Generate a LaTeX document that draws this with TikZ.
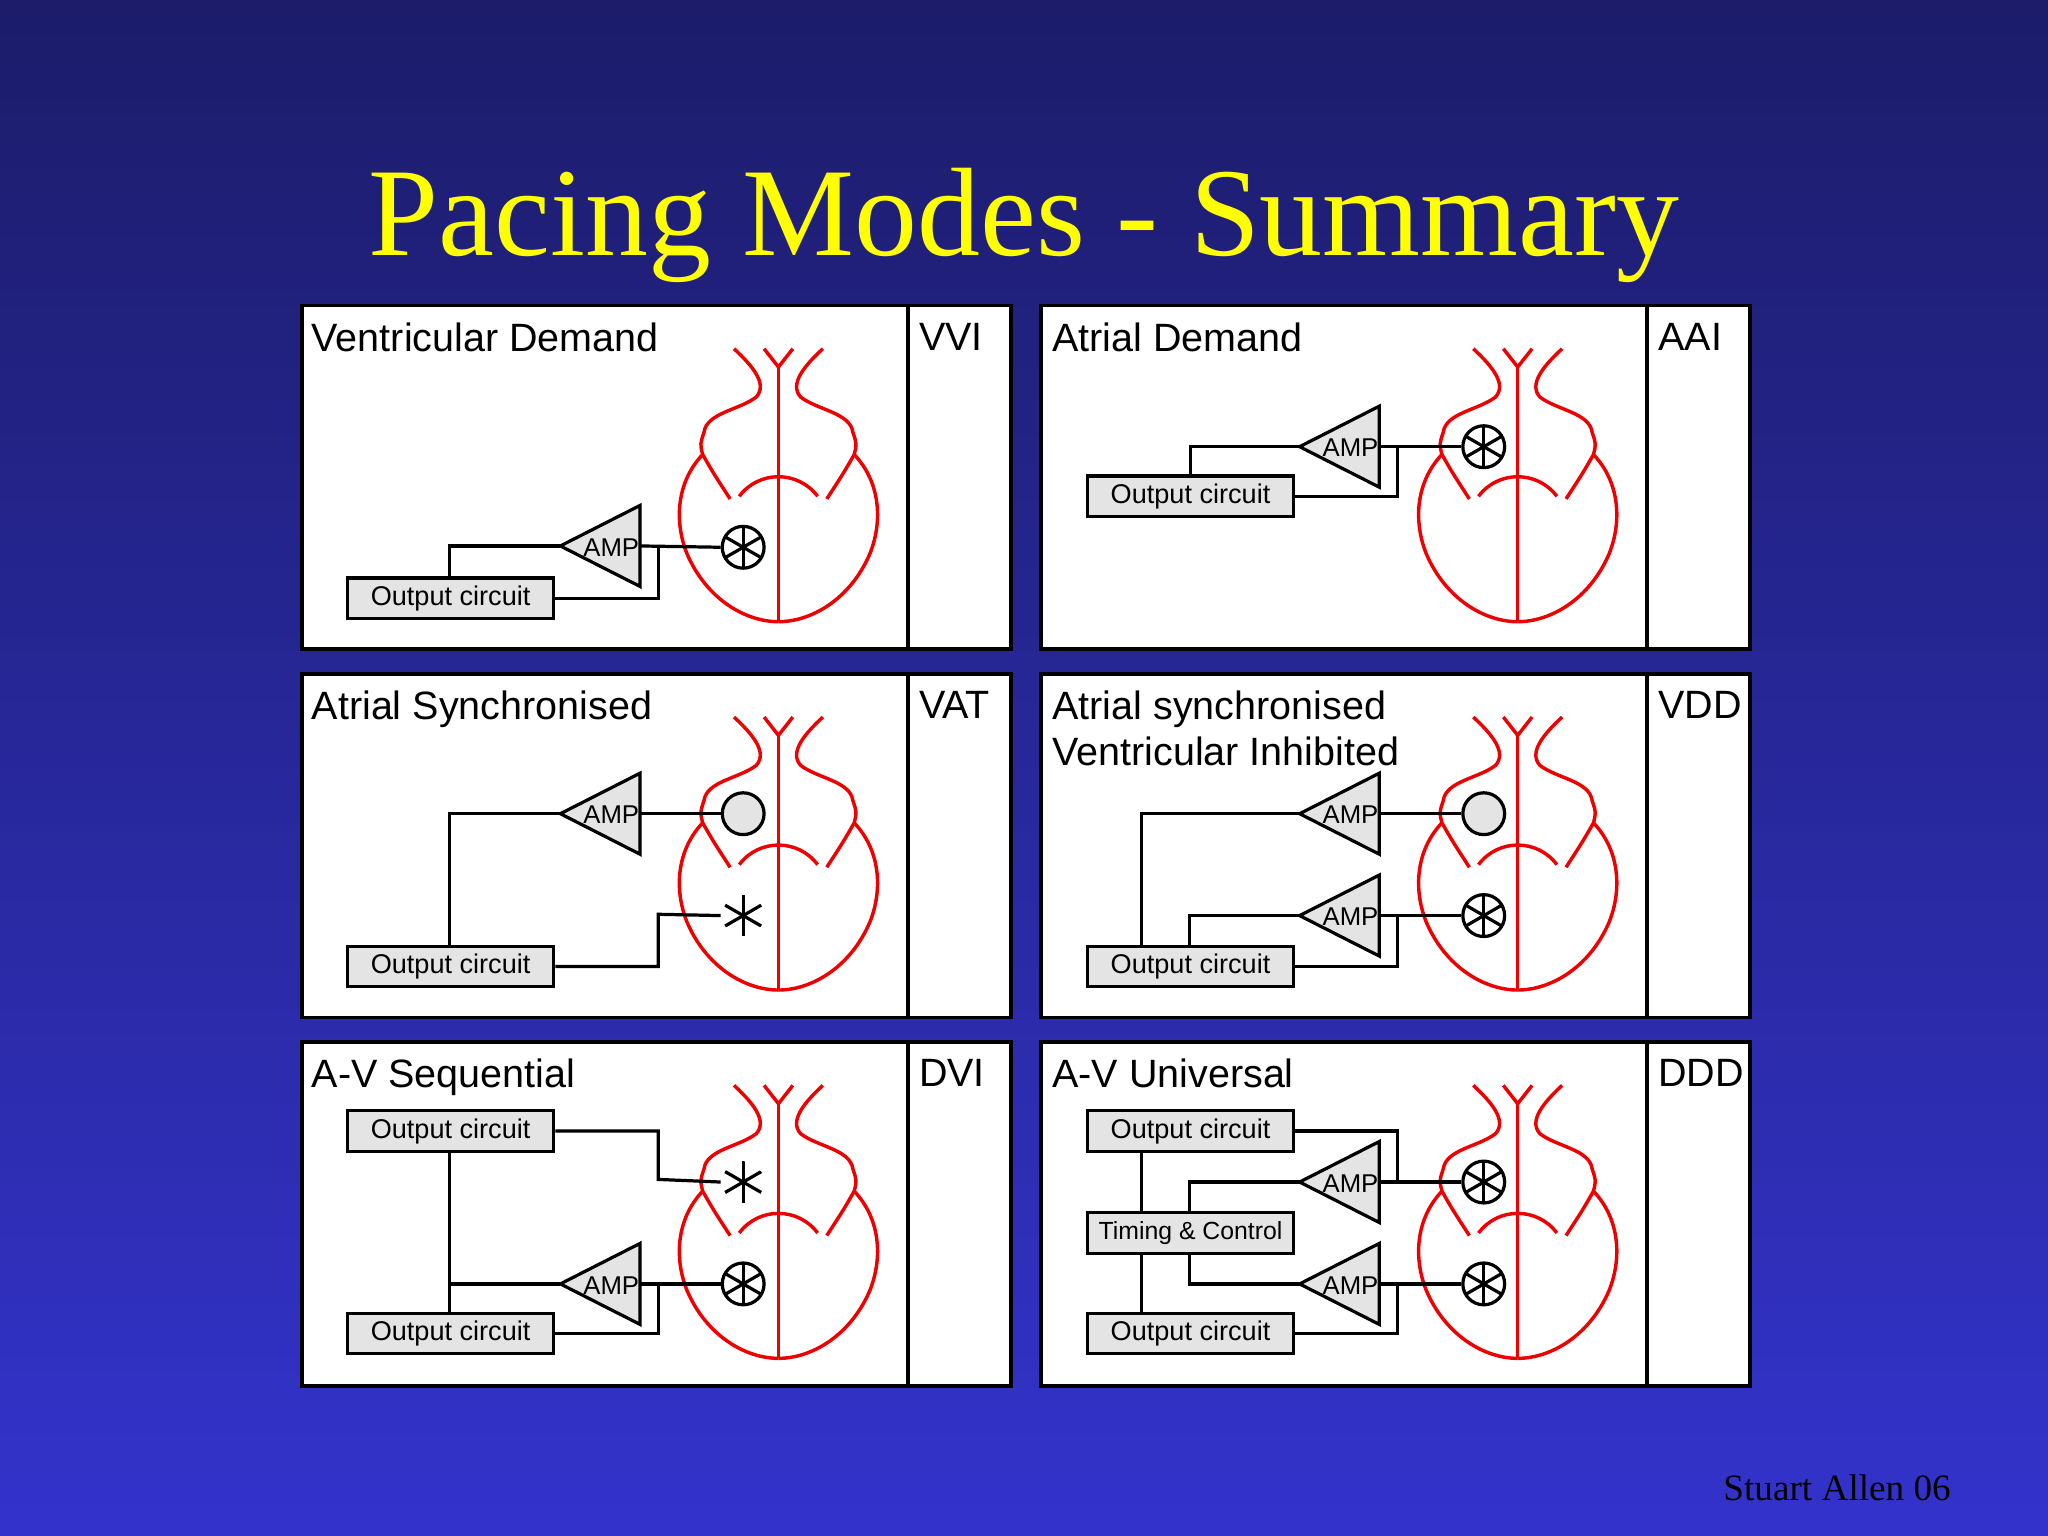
\documentclass[tikz,border=0pt]{standalone}
\usepackage{fontspec}
\setmainfont{Liberation Serif}
\newfontfamily\sansf{Liberation Sans}
\usetikzlibrary{calc}
\definecolor{bgtop}{HTML}{1C1C6A}
\definecolor{bgbot}{HTML}{3333CC}
\definecolor{heartred}{HTML}{EE0000}
\definecolor{boxgray}{HTML}{E4E4E4}
\definecolor{titleyel}{HTML}{FFFF00}
\begin{document}
\begin{tikzpicture}[x=0.01cm,y=-0.01cm,
  panel/.style={draw=black,fill=white,line width=0.8pt},
  ptitle/.style={anchor=base west,inner sep=0pt,font=\sansf\fontsize{8.6}{10}\selectfont,align=left},
  outbox/.style={draw=black,fill=boxgray,line width=0.7pt,minimum width=1.58cm,minimum height=0.31cm,inner sep=0pt,font=\sansf\fontsize{5.9}{6}\selectfont},
  wire/.style={draw=black,line width=0.7pt},
  sensor/.style={circle,draw=black,line width=0.7pt,minimum size=0.32cm,inner sep=0pt},
  spokes/.style={path picture={
     \foreach \ang in {90,30,150}
       \draw[line width=0.7pt] ($(path picture bounding box.center)+(\ang:0.16cm)$) -- ($(path picture bounding box.center)+(\ang+180:0.16cm)$);}},
  sensepace/.style={sensor,fill=white,spokes},
  sense/.style={sensor,fill=boxgray},
  pace/.style={sensor,draw=none,spokes},
  heart/.pic={
    \begin{scope}[draw=heartred,line width=0.75pt]
    \foreach \s in {1,-1}{
      \draw (\s*-34,33) .. controls (\s*-20,46) and (\s*-8,60) .. (\s*-17,70)
        .. controls (\s*-30,80) and (\s*-55,82) .. (\s*-57,97)
        .. controls (\s*-60,106) .. (\s*-58,114)
        .. controls (\s*-50,128) .. (\s*-37,148);
      \draw (\s*-58,114) .. controls (\s*-78,135) and (\s*-80,165) .. (\s*-70,190)
        .. controls (\s*-55,225) and (\s*-25,242) .. (0,242);
    }
    \draw (-30,146) .. controls (-15,126) and (15,126) .. (30,146);
    \draw (-11,33) -- (0,47) -- (11,33);
    \draw (0,47) -- (0,242);
    \end{scope}}
]
\newcommand{\ampl}[3]{% name, apex x, y
  \draw[fill=boxgray,line width=0.7pt] (#2,#3) -- (#2+61,#3-31) -- (#2+61,#3+31) -- cycle;
  \coordinate (#1-w) at (#2,#3);
  \coordinate (#1-e) at (#2+61,#3);
  \node[inner sep=0pt,anchor=east,font=\sansf\fontsize{5.6}{6}\selectfont] (#1) at (#2+61,#3+1) {AMP};}

% background
\shade[top color=bgtop,bottom color=bgbot] (0,0) rectangle (1568,1176);
\node[text=titleyel,font=\fontsize{27.4}{30}\selectfont,anchor=base] (title) at (784,196) {Pacing Modes - Summary};
\node[anchor=base east,font=\fontsize{8.1}{9}\selectfont] (author) at (1506,1149) {Stuart Allen 06};

% panels
\foreach \px/\py/\nm/\md in {231/234/p1/VVI,797/234/p2/AAI,231/516/p3/VAT,797/516/p4/VDD,231/798/p5/DVI,797/798/p6/DDD}{
  \draw[panel] (\px,\py) rectangle ++(543,263);
  \draw[line width=0.8pt] (\px+464,\py) -- ++(0,263);
  \node[ptitle] (\nm-mode) at (\px+472,\py+34) {\md};
  \pic at (\px+365,\py) {heart};
}
\node[ptitle] (t1) at (238,269) {Ventricular Demand};
\node[ptitle] (t2) at (805,269) {Atrial Demand};
\node[ptitle] (t3) at (238,551) {Atrial Synchronised};
\node[ptitle,anchor=north west] (t4) at (805,528) {Atrial synchronised\\[0pt]Ventricular Inhibited};
\node[ptitle] (t5) at (238,833) {A-V Sequential};
\node[ptitle] (t6) at (805,833) {A-V Universal};

% VVI
\ampl{a1}{429}{418}
\node[sensepace] (s1) at (569,419) {};
\node[outbox] (b1) at (345,458) {Output circuit};
\draw[wire] (a1-e) -- (s1.west);
\draw[wire] (a1-w) -| (b1.north -| 344,0);
\draw[wire] (504,418) |- (b1.east);

% AAI
\ampl{a2}{995}{342}
\node[sensepace] (s2) at (1136,342) {};
\node[outbox] (b2) at (911.5,380) {Output circuit};
\draw[wire] (a2-e) -- (s2.west);
\draw[wire] (a2-w) -| (b2.north);
\draw[wire] (1070,342) |- (b2.east);

% VAT
\ampl{a3}{429}{623}
\node[sense] (s3) at (569,623) {};
\node[pace] (s3v) at (569,701) {};
\node[outbox] (b3) at (345,740) {Output circuit};
\draw[wire] (a3-e) -- (s3.west);
\draw[wire] (a3-w) -| (b3.north -| 344,0);
\draw[wire] (b3.east) -| (504,700) -- (s3v.west);

% VDD
\ampl{a4}{995}{623}
\ampl{a5}{995}{701}
\node[sense] (s4) at (1136,623) {};
\node[sensepace] (s5) at (1136,701) {};
\node[outbox] (b4) at (911.5,740) {Output circuit};
\draw[wire] (a4-e) -- (s4.west);
\draw[wire] (a5-e) -- (s5.west);
\draw[wire] (a4-w) -| (874,724);
\draw[wire] (a5-w) -| (911,724);
\draw[wire] (1070,701) |- (b4.east);

% DVI
\ampl{a6}{429}{983}
\node[pace] (s6v) at (569,905) {};
\node[sensepace] (s6) at (569,983) {};
\node[outbox] (b5) at (345,866) {Output circuit};
\node[outbox] (b6) at (345,1021) {Output circuit};
\draw[wire] (b5.east) -| (504,903) -- (s6v.west);
\draw[wire] (344,882) -- (344,1006);
\draw[wire] (a6-w) -- (344,983);
\draw[wire] (a6-e) -- (s6.west);
\draw[wire] (504,983) |- (b6.east);

% DDD
\ampl{a7}{995}{905}
\ampl{a8}{995}{983}
\node[sensepace] (s7) at (1136,905) {};
\node[sensepace] (s8) at (1136,983) {};
\node[outbox] (b7) at (911.5,866) {Output circuit};
\node[outbox,font=\sansf\fontsize{5.4}{6}\selectfont] (tc) at (911.5,944) {Timing \& Control};
\node[outbox] (b8) at (911.5,1021) {Output circuit};
\draw[wire] (a7-e) -- (s7.west);
\draw[wire] (a8-e) -- (s8.west);
\draw[wire] (b7.east) -| (1070,905);
\draw[wire] (a7-w) -| (911,928);
\draw[wire] (a8-w) -| (911,959);
\draw[wire] (874,882) -- (874,928);
\draw[wire] (874,959) -- (874,1006);
\draw[wire] (1070,983) |- (b8.east);
\end{tikzpicture}
\end{document}
